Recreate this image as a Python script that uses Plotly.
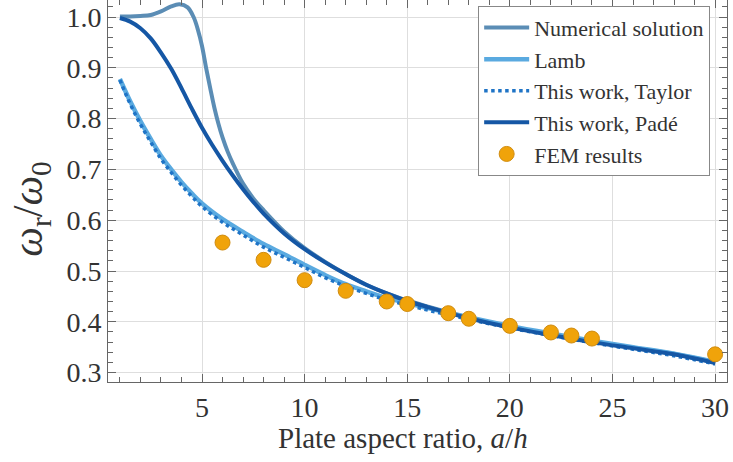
import plotly.graph_objects as go

# Numerical solution
x_num = [1.0, 1.5, 2.0, 2.5, 3.0, 3.5, 3.9, 4.3, 4.6, 4.8, 5.0, 5.2, 5.4, 5.6, 5.8, 6.0,
         6.25, 6.5, 7.0, 7.5, 8.0, 9.0, 10.0, 11.0, 12.0, 13.0, 14.0, 15.0, 16.0, 18.0,
         20.0, 22.0, 24.0, 26.0, 28.0, 30.0]
y_num = [1.001, 1.001, 1.002, 1.004, 1.011, 1.021, 1.025, 1.019, 0.999, 0.975, 0.943,
         0.900, 0.860, 0.822, 0.790, 0.763, 0.735, 0.712, 0.672, 0.643, 0.620, 0.578,
         0.545, 0.518, 0.494, 0.473, 0.456, 0.442, 0.430, 0.408, 0.390, 0.375, 0.361,
         0.349, 0.337, 0.320]

# Lamb
x_lamb = [1.0, 1.5, 2.0, 2.5, 3.0, 3.5, 4.0, 4.5, 5.0, 6.0, 7.0, 8.0, 9.0, 10.0, 11.0,
          12.0, 13.0, 14.0, 15.0, 16.0, 17.0, 18.0, 20.0, 22.0, 24.0, 26.0, 28.0, 30.0]
y_lamb = [0.878, 0.834, 0.795, 0.760, 0.727, 0.700, 0.675, 0.653, 0.633, 0.602, 0.577,
          0.553, 0.533, 0.512, 0.492, 0.474, 0.460, 0.447, 0.437, 0.427, 0.418, 0.409,
          0.392, 0.377, 0.363, 0.350, 0.337, 0.321]

# This work, Taylor
x_taylor = x_lamb
y_taylor = [0.876, 0.829, 0.789, 0.754, 0.721, 0.694, 0.669, 0.647, 0.627, 0.596, 0.571,
            0.547, 0.527, 0.507, 0.487, 0.470, 0.456, 0.443, 0.433, 0.423, 0.414, 0.405,
            0.388, 0.373, 0.359, 0.346, 0.333, 0.317]

# This work, Padé
x_pade = [1.0, 1.5, 2.0, 2.5, 3.0, 3.5, 4.0, 4.5, 5.0, 5.5, 6.0, 6.5, 7.0, 7.5, 8.0,
          9.0, 10.0, 11.0, 12.0, 13.0, 14.0, 15.0, 16.0, 18.0, 20.0, 22.0, 24.0, 26.0,
          28.0, 30.0]
y_pade = [0.998, 0.991, 0.978, 0.958, 0.930, 0.898, 0.860, 0.820, 0.782, 0.748, 0.717,
          0.688, 0.661, 0.636, 0.613, 0.574, 0.543, 0.517, 0.494, 0.473, 0.456, 0.441,
          0.429, 0.407, 0.389, 0.374, 0.360, 0.348, 0.336, 0.319]

# FEM results
x_fem = [6, 8, 10, 12, 14, 15, 17, 18, 20, 22, 23, 24, 30]
y_fem = [0.556, 0.522, 0.482, 0.461, 0.440, 0.435, 0.417, 0.406, 0.392, 0.379, 0.373,
         0.367, 0.336]

x_ticks = [5, 10, 15, 20, 25, 30]
y_ticks = [0.3, 0.4, 0.5, 0.6, 0.7, 0.8, 0.9, 1.0]

FONT = "Liberation Serif"

fig = go.Figure()
fig.add_trace(go.Scatter(x=x_num, y=y_num, mode="lines", name="Numerical solution",
                         line=dict(color="#5b8db5", width=4, shape="spline")))
fig.add_trace(go.Scatter(x=x_lamb, y=y_lamb, mode="lines", name="Lamb",
                         line=dict(color="#5aaae0", width=4.5, shape="spline")))
fig.add_trace(go.Scatter(x=x_taylor, y=y_taylor, mode="lines", name="This work, Taylor",
                         line=dict(color="#1f74c6", width=3.5, dash="dot", shape="spline")))
fig.add_trace(go.Scatter(x=x_pade, y=y_pade, mode="lines", name="This work, Padé",
                         line=dict(color="#1557a5", width=4, shape="spline")))
fig.add_trace(go.Scatter(x=x_fem, y=y_fem, mode="markers", name="FEM results",
                         marker=dict(color="#f0a30a", size=15,
                                     line=dict(color="#d08c10", width=1))))

axis_common = dict(
    showline=True, linecolor="#666666", linewidth=1, mirror="allticks",
    ticks="inside", ticklen=8, tickwidth=1, tickcolor="#666666",
    showgrid=True, gridcolor="#dedede", gridwidth=1, zeroline=False,
    tickfont=dict(family=FONT, size=28, color="#333333"),
)

fig.update_xaxes(range=[0.42, 30.58], tickvals=x_ticks,
                 minor=dict(ticks="inside", dtick=1, ticklen=5, tickcolor="#666666",
                            showgrid=False),
                 **axis_common)
fig.update_yaxes(range=[0.2815, 1.0335], tickvals=y_ticks, tickformat=".1f",
                 minor=dict(ticks="inside", dtick=0.02, ticklen=5, tickcolor="#666666",
                            showgrid=False),
                 **axis_common)

fig.add_annotation(text="Plate aspect ratio, <i>a</i>/<i>h</i>", xref="paper", yref="paper",
                   x=0.476, y=-0.147, xanchor="center", yanchor="middle", showarrow=False,
                   font=dict(family=FONT, size=29, color="#333333"))
fig.add_annotation(text="<i>ω</i><sub>r</sub>/<i>ω</i><sub>0</sub>", xref="paper", yref="paper",
                   x=-0.124, y=0.4516, xanchor="center", yanchor="middle", showarrow=False,
                   textangle=-90, font=dict(family=FONT, size=42, color="#333333"))

fig.update_layout(
    width=733, height=462,
    margin=dict(l=108, r=6, t=0, b=80),
    font=dict(family=FONT),
    paper_bgcolor="white", plot_bgcolor="white",
    showlegend=True,
    legend=dict(x=0.598, y=0.985, xanchor="left", yanchor="top",
                bgcolor="white", bordercolor="#888888", borderwidth=1,
                font=dict(family=FONT, size=22, color="#333333"),
                itemwidth=45, tracegroupgap=0),
)

fig.write_html("out.html")
